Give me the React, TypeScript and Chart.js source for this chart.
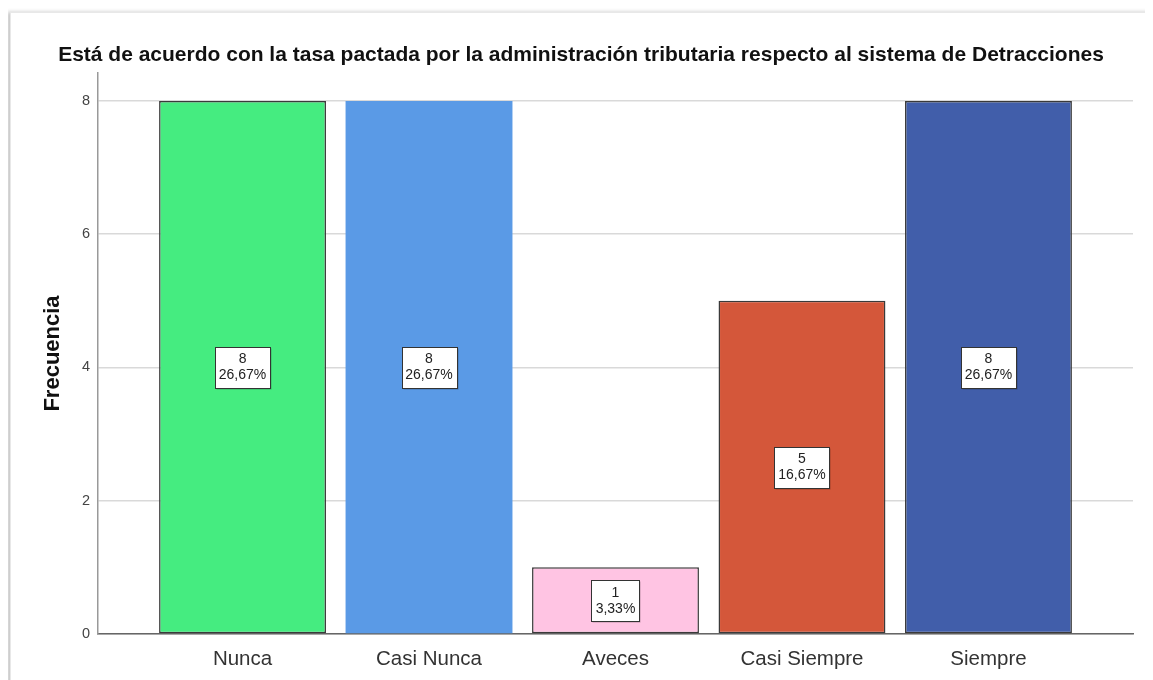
import React, { useEffect, useRef } from 'react';
import { Chart, registerables } from 'chart.js';

Chart.register(...registerables);

const TITLE = 'Está de acuerdo con la tasa pactada por la administración tributaria respecto al sistema de Detracciones';
const Y_TITLE = 'Frecuencia';
const categories = ['Nunca', 'Casi Nunca', 'Aveces', 'Casi Siempre', 'Siempre'];
const frequencies = [8, 8, 1, 5, 8];
const barColors = ['#45EC80', '#5A9AE6', '#FFC4E3', '#D4573A', '#415EAA'];
const barBorderColors = ['#3a3a3a', '#5A9AE6', '#3a3a3a', '#3a3a3a', '#3a3a3a'];
const barBorderWidths = [1.5, 0, 1.5, 1.5, 1.5];
const yTicks = [0, 2, 4, 6, 8];

const FONT = '"Liberation Sans", Arial, sans-serif';

const boxLabelPlugin = {
  id: 'boxLabels',
  afterDatasetsDraw(chart: any) {
    const ctx = chart.ctx as CanvasRenderingContext2D;
    const meta = chart.getDatasetMeta(0);
    const yScale = chart.scales.y;
    const total = frequencies.reduce((a, b) => a + b, 0);
    ctx.save();
    ctx.font = `14px ${FONT}`;
    ctx.textAlign = 'center';
    ctx.textBaseline = 'middle';
    meta.data.forEach((bar: any, i: number) => {
      const v = frequencies[i];
      const pct = (v / total * 100).toFixed(2).replace('.', ',') + '%';
      const cx = bar.x;
      const cy = yScale.getPixelForValue(v / 2);
      const w = Math.round(Math.max(ctx.measureText(String(v)).width, ctx.measureText(pct).width) + 8);
      const h = 41;
      const x0 = Math.round(cx - w / 2) + 0.5;
      const y0 = Math.round(cy - h / 2) + 0.5;
      ctx.fillStyle = 'rgba(0,0,0,0.25)';
      ctx.fillRect(x0 + 1, y0 + 1, w, h);
      ctx.fillStyle = '#ffffff';
      ctx.fillRect(x0, y0, w, h);
      ctx.strokeStyle = '#333333';
      ctx.lineWidth = 1;
      ctx.strokeRect(x0, y0, w, h);
      ctx.fillStyle = '#222222';
      ctx.fillText(String(v), cx, cy - 8);
      ctx.fillText(pct, cx, cy + 8);
    });
    ctx.restore();
  },
};

export default function App() {
  const canvasRef = useRef<HTMLCanvasElement | null>(null);

  useEffect(() => {
    if (!canvasRef.current) return;
    const chart = new Chart(canvasRef.current, {
      type: 'bar',
      data: {
        datasets: [
          {
            label: Y_TITLE,
            data: frequencies.map((v, i) => ({ x: i, y: v })),
            backgroundColor: barColors,
            borderColor: barBorderColors,
            borderWidth: barBorderWidths,
            borderSkipped: false,
            categoryPercentage: 1,
            barPercentage: 0.895,
          } as any,
        ],
      },
      options: {
        responsive: false,
        animation: false,
        layout: { padding: { left: 21, right: 20, top: 0, bottom: 0 } },
        plugins: {
          legend: { display: false },
          tooltip: { enabled: false },
          title: {
            display: true,
            text: TITLE,
            color: '#111111',
            font: { family: FONT, size: 21, weight: 'bold' },
            padding: { top: 34.4, bottom: 5.4 },
          },
        },
        scales: {
          x: {
            type: 'linear',
            offset: false,
            min: -0.775,
            max: 4.775,
            afterBuildTicks: (scale: any) => {
              scale.ticks = categories.map((_, i) => ({ value: i }));
            },
            afterFit: (scale: any) => {
              scale.height = 46;
            },
            grid: { display: false, drawTicks: false, offset: false },
            border: { display: true, color: '#666666', width: 1.5 },
            ticks: {
              padding: 13,
              color: '#333333',
              font: { family: FONT, size: 20.5 },
              autoSkip: false,
              maxRotation: 0,
              callback: (value: any) => categories[Number(value)] ?? '',
            },
          },
          y: {
            type: 'linear',
            min: 0,
            max: 8.42,
            afterBuildTicks: (scale: any) => {
              scale.ticks = yTicks.map((v) => ({ value: v }));
            },
            afterFit: (scale: any) => {
              scale.width = 69;
            },
            grid: { color: '#d9d9d9', lineWidth: 1.5, drawTicks: false },
            border: { display: true, color: '#999999', width: 1.5 },
            ticks: {
              padding: 8,
              color: '#444444',
              font: { family: FONT, size: 14.5 },
              callback: (value: any) => String(value),
            },
            title: {
              display: true,
              text: Y_TITLE,
              color: '#111111',
              font: { family: FONT, size: 22, weight: 'bold' },
              padding: { top: 10.8, bottom: 0 },
            },
          },
        },
      },
      plugins: [boxLabelPlugin],
    });
    return () => chart.destroy();
  }, []);

  return (
    <div style={{ position: 'relative', width: 1145, height: 672, overflow: 'hidden' }}>
      <div
        style={{
          position: 'absolute',
          left: 2,
          top: 4,
          width: 1141,
          height: 680,
          border: '1px solid #e8e8e8',
          boxShadow: '-3px 0 4px rgba(0,0,0,0.22)',
          background: '#ffffff',
        }}
      />
      <canvas
        ref={canvasRef}
        width={1145}
        height={672}
        style={{ position: 'absolute', left: 0, top: 0, width: 1145, height: 672 }}
      />
    </div>
  );
}
